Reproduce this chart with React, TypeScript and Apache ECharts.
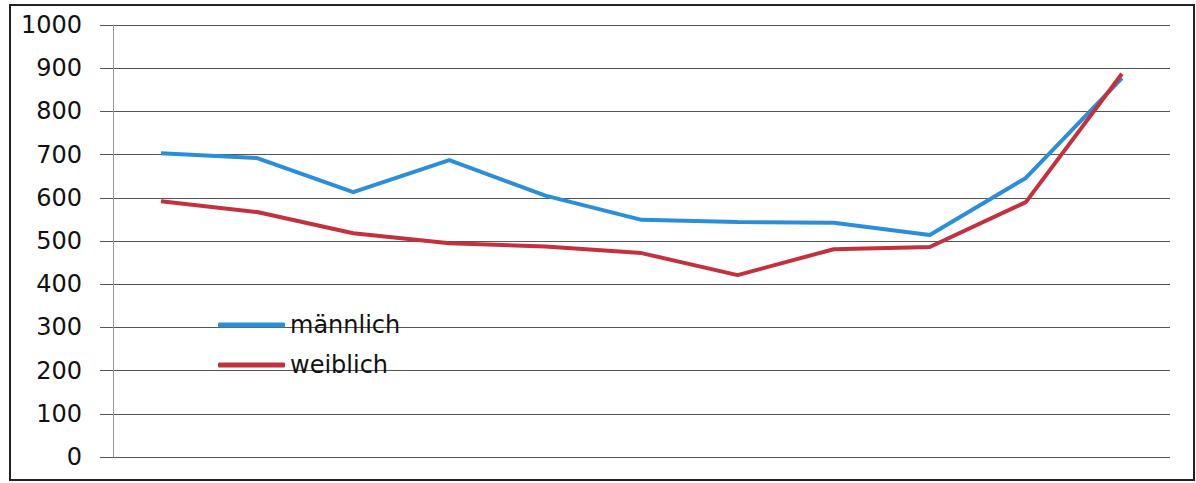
import React, { useEffect, useRef } from "react";
import * as echarts from "echarts";

const categories = ["1", "2", "3", "4", "5", "6", "7", "8", "9", "10", "11"];
const maleValues = [703, 692, 613, 687, 605, 549, 544, 542, 514, 646, 877];
const femaleValues = [592, 567, 518, 495, 487, 472, 421, 481, 486, 590, 887];
const seriesNames = ["männlich", "weiblich"];

export default function App() {
  const ref = useRef<HTMLDivElement>(null);
  useEffect(() => {
    if (!ref.current) return;
    const chart = echarts.init(ref.current, undefined, { renderer: "svg" });
    chart.setOption({
      animation: false,
      backgroundColor: "#ffffff",
      grid: [
        { left: 100, right: 26, top: 25, bottom: 26, containLabel: false },
        { left: 113, right: 26, top: 25, bottom: 26, containLabel: false },
      ],
      legend: {
        orient: "vertical",
        left: 218,
        top: 313,
        padding: 0,
        itemGap: 16,
        itemWidth: 67,
        itemHeight: 5,
        icon: "roundRect",
        data: seriesNames,
        textStyle: {
          fontFamily: "DejaVu Sans",
          fontSize: 24,
          lineHeight: 24,
          color: "#111",
        },
      },
      xAxis: [
        {
          type: "category",
          gridIndex: 0,
          data: categories,
          show: false,
        },
        {
          type: "category",
          gridIndex: 1,
          data: categories,
          boundaryGap: true,
          axisLine: { show: false },
          axisTick: { show: false },
          axisLabel: { show: false },
          splitLine: { show: false },
        },
      ],
      yAxis: [
        {
          type: "value",
          gridIndex: 0,
          min: 0,
          max: 1000,
          interval: 100,
          axisLine: { show: false },
          axisTick: { show: false },
          axisLabel: {
            margin: 18,
            fontFamily: "DejaVu Sans",
            fontSize: 24,
            color: "#111",
            formatter: (v: number) => String(v),
          },
          splitLine: { show: true, lineStyle: { color: "#555", width: 1 } },
        },
        {
          type: "value",
          gridIndex: 1,
          min: 0,
          max: 1000,
          interval: 100,
          axisLine: { show: true, lineStyle: { color: "#999", width: 1 } },
          axisTick: { show: false },
          axisLabel: { show: false },
          splitLine: { show: false },
        },
      ],
      series: [
        {
          name: seriesNames[0],
          type: "line",
          xAxisIndex: 1,
          yAxisIndex: 1,
          data: maleValues,
          symbol: "none",
          lineStyle: { color: "#2a8fd8", width: 4 },
          itemStyle: { color: "#2a8fd8" },
        },
        {
          name: seriesNames[1],
          type: "line",
          xAxisIndex: 1,
          yAxisIndex: 1,
          data: femaleValues,
          symbol: "none",
          lineStyle: { color: "#c4303e", width: 4 },
          itemStyle: { color: "#c4303e" },
        },
      ],
      graphic: [
        {
          type: "rect",
          shape: { x: 10, y: 5, width: 1184, height: 475 },
          style: { fill: "none", stroke: "#222", lineWidth: 2 },
          silent: true,
        },
      ],
    });
    return () => chart.dispose();
  }, []);
  return (
    <div
      ref={ref}
      style={{ position: "fixed", left: 0, top: 0, width: 1196, height: 483 }}
    />
  );
}
